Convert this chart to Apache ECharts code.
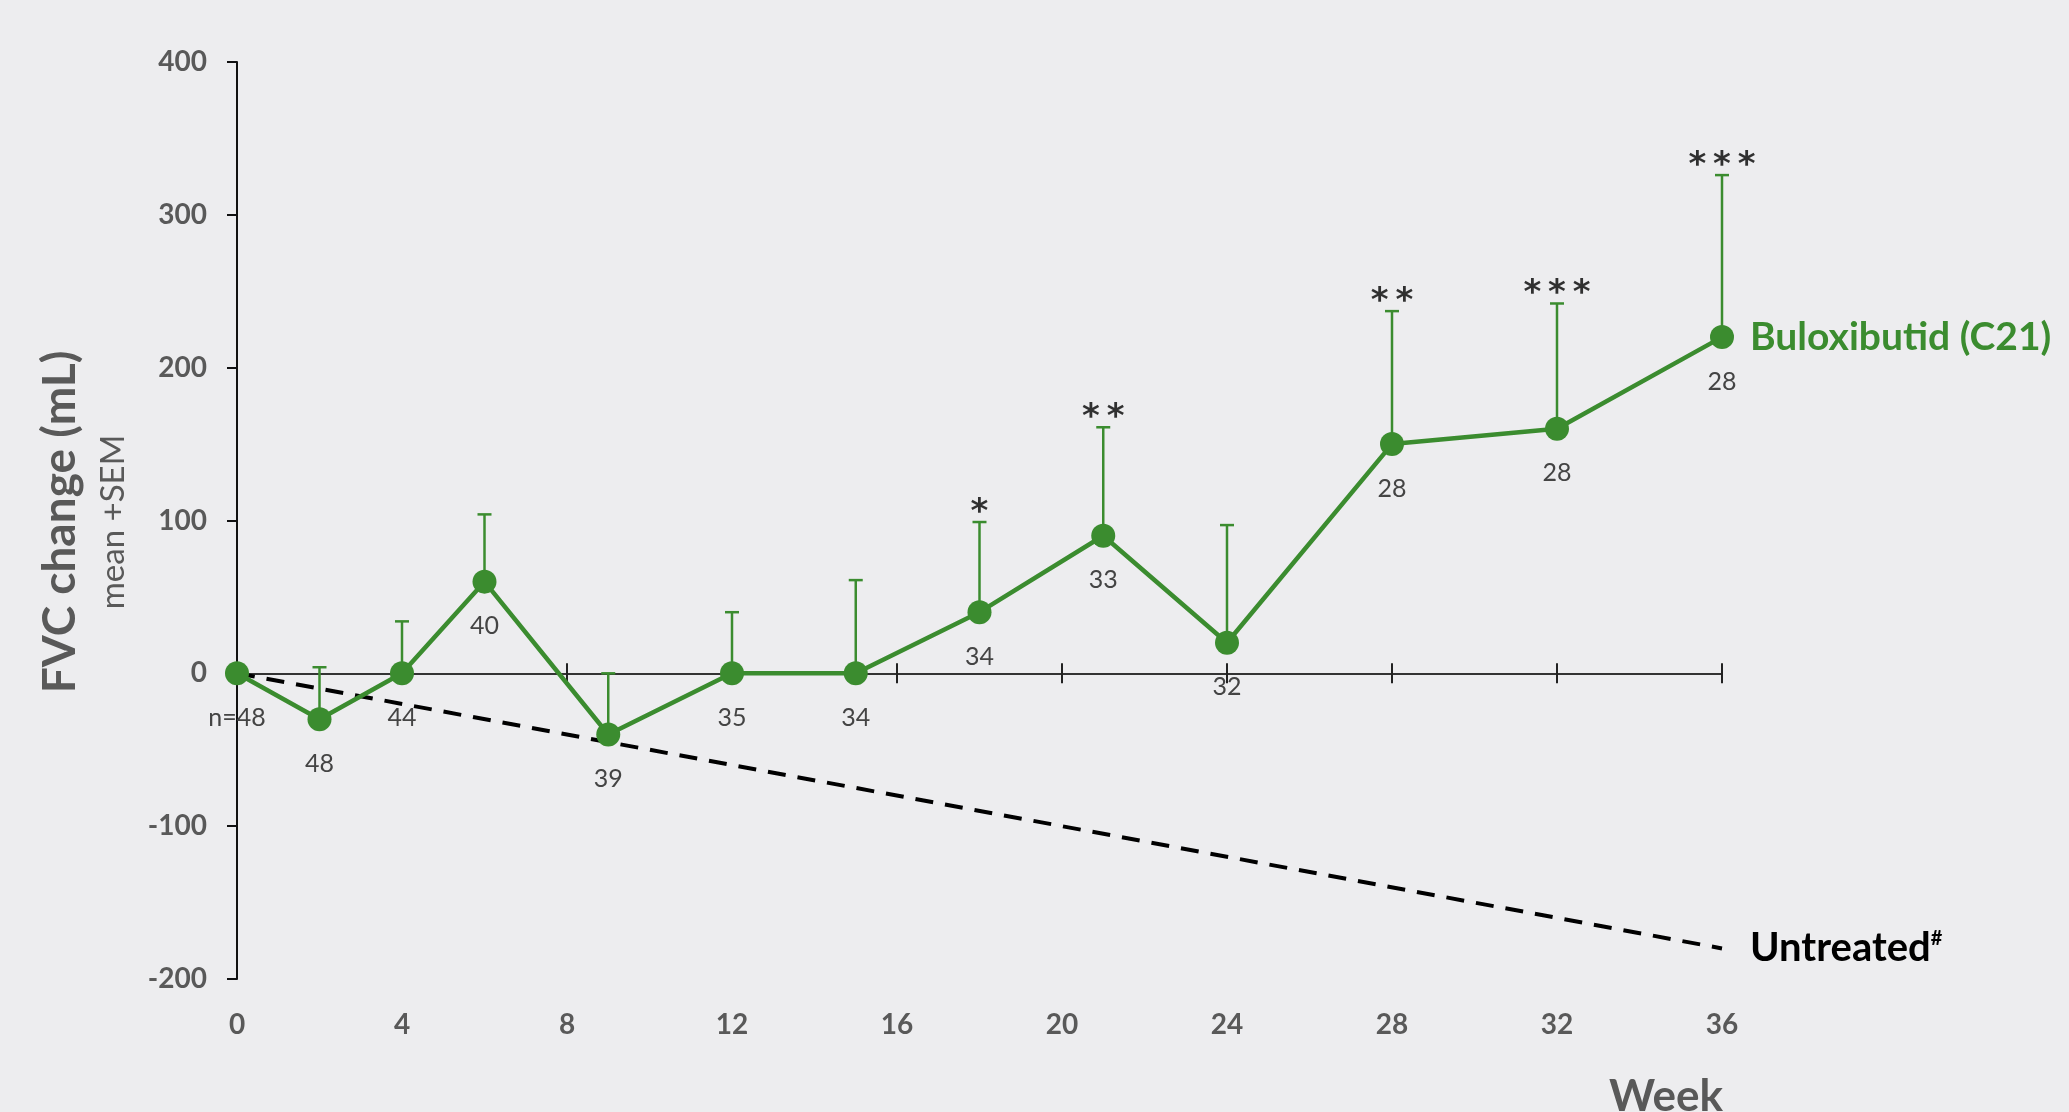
<!DOCTYPE html>
<html>
<head>
<meta charset="utf-8">
<script src="https://cdn.jsdelivr.net/npm/echarts@6/dist/echarts.min.js"></script>
<style>
html, body { margin: 0; padding: 0; background: #ededef; }
#chart { width: 2069px; height: 1112px; }
</style>
</head>
<body>
<div id="chart"></div>
<script>
var weeks = [0, 2, 4, 6, 9, 12, 15, 18, 21, 24, 28, 32, 36];
var fvcMean = [0, -30, 0, 60, -40, 0, 0, 40, 90, 20, 150, 160, 220];
var fvcSem = [0, 34, 34, 44, 40, 40, 61, 59, 71, 77, 87, 82, 106];
var nPatients = ['n=48', '48', '44', '40', '39', '35', '34', '34', '33', '32', '28', '28', '28'];
var stars = ['', '', '', '', '', '', '', '*', '**', '', '**', '***', '***'];
var untreatedWeeks = [0, 36];
var untreatedMean = [0, -180];

var green = '#3b8c2f';
var grey = '#595959';
var font = 'Lato';

var chartDom = document.getElementById('chart');
var myChart = echarts.init(chartDom);
var option;

var meanData = weeks.map(function (w, i) { return [w, fvcMean[i]]; });
var errData = weeks.map(function (w, i) { return [w, fvcMean[i], fvcSem[i]]; });
var starData = weeks.map(function (w, i) { return [w, fvcMean[i] + fvcSem[i]]; });
var untreatedData = untreatedWeeks.map(function (w, i) { return [w, untreatedMean[i]]; });

option = {
    backgroundColor: '#ededef',
    animation: false,
    textStyle: { fontFamily: font },
    grid: {
        left: 237,
        right: 347,
        top: 62,
        bottom: 133,
        containLabel: false
    },
    xAxis: [
        {
            // line on zero, ticks pointing up
            type: 'value', position: 'bottom', min: 0, max: 36, interval: 4,
            axisLine: { onZero: true, onZeroAxisIndex: 0, lineStyle: { color: '#333', width: 2 } },
            axisTick: { show: true, inside: true, length: 10, lineStyle: { color: '#222', width: 2 } },
            axisLabel: { show: false },
            splitLine: { show: false }
        },
        {
            // ticks pointing down, on zero of the helper y axis
            type: 'value', position: 'bottom', min: 0, max: 36, interval: 4,
            axisLine: { show: true, onZero: true, onZeroAxisIndex: 1, lineStyle: { color: '#333', width: 2, opacity: 0 } },
            axisTick: { show: true, inside: false, length: 10, lineStyle: { color: '#222', width: 2 } },
            axisLabel: { show: false },
            splitLine: { show: false }
        },
        {
            // labels at the bottom
            type: 'value', position: 'bottom', min: 0, max: 36, interval: 4,
            axisLine: { show: false, onZero: false },
            axisTick: { show: false },
            axisLabel: { show: true, margin: 32, fontSize: 28, fontWeight: 'bold', color: grey, fontFamily: font },
            splitLine: { show: false }
        }
    ],
    yAxis: [
        {
            type: 'value', position: 'left', min: -200, max: 400, interval: 100,
            axisLine: { show: true, onZero: false, lineStyle: { color: '#111', width: 2 } },
            axisTick: { show: true, length: 10, lineStyle: { color: '#111', width: 2 } },
            axisLabel: { margin: 30, fontSize: 28, fontWeight: 'bold', color: grey, fontFamily: font },
            splitLine: { show: false }
        },
        {
            // helper axis, same scale, nothing drawn
            type: 'value', position: 'left', min: -200, max: 400, interval: 100,
            axisLine: { show: false, onZero: false },
            axisTick: { show: false },
            axisLabel: { show: false },
            splitLine: { show: false }
        }
    ],
    graphic: [
        {
            type: 'text', x: 60, y: 522, rotation: Math.PI / 2,
            style: { text: 'FVC change (mL)', fontSize: 46, fontWeight: 'bold', fill: grey, fontFamily: font, align: 'center', verticalAlign: 'middle' }
        },
        {
            type: 'text', x: 113, y: 522, rotation: Math.PI / 2,
            style: { text: 'mean +SEM', fontSize: 33, fill: grey, fontFamily: font, align: 'center', verticalAlign: 'middle' }
        },
        {
            type: 'text', x: 1666, y: 1097,
            style: { text: 'Week', fontSize: 44, fontWeight: 'bold', fill: grey, fontFamily: font, align: 'center', verticalAlign: 'middle' }
        }
    ],
    series: [
        {
            name: 'Untreated',
            type: 'line',
            data: untreatedData,
            symbol: 'none',
            lineStyle: { color: '#000', width: 4, type: [18, 12] },
            z: 2,
            endLabel: {
                show: true,
                distance: 28,
                formatter: '{a|Untreated}{b|#}',
                rich: {
                    a: { fontSize: 40, fontWeight: 'bold', color: '#000', fontFamily: font },
                    b: { fontSize: 20, fontWeight: 'bold', color: '#000', fontFamily: font, verticalAlign: 'top', padding: [0, 0, 18, 0] }
                }
            }
        },
        {
            name: 'SEM',
            type: 'custom',
            data: errData,
            z: 3,
            renderItem: function (params, api) {
                var x = api.value(0), m = api.value(1), s = api.value(2);
                if (!s) return;
                var p0 = api.coord([x, m]);
                var p1 = api.coord([x, m + s]);
                var st = { stroke: green, lineWidth: 2.5 };
                return {
                    type: 'group',
                    children: [
                        { type: 'line', shape: { x1: p0[0], y1: p0[1], x2: p1[0], y2: p1[1] }, style: st },
                        { type: 'line', shape: { x1: p1[0] - 7, y1: p1[1], x2: p1[0] + 7, y2: p1[1] }, style: st }
                    ]
                };
            }
        },
        {
            name: 'Buloxibutid (C21)',
            type: 'line',
            data: meanData,
            symbol: 'circle',
            symbolSize: 24,
            itemStyle: { color: green },
            lineStyle: { color: green, width: 4.5 },
            z: 4,
            label: {
                show: true,
                position: 'bottom',
                distance: 20,
                fontSize: 25,
                color: '#444',
                fontFamily: font,
                formatter: function (p) { return nPatients[p.dataIndex]; }
            },
            endLabel: {
                show: true,
                distance: 28,
                fontSize: 39,
                fontWeight: 'bold',
                color: green,
                fontFamily: font,
                formatter: 'Buloxibutid (C21)'
            }
        },
        {
            name: 'stars',
            type: 'scatter',
            data: starData,
            symbolSize: 0,
            z: 5,
            label: {
                show: true,
                position: 'top',
                distance: -8,
                fontSize: 34,
                fontWeight: 'bold',
                color: '#000',
                fontFamily: 'DejaVu Sans',
                formatter: function (p) { return stars[p.dataIndex].split('').join('\u2009'); }
            }
        }
    ]
};

option && myChart.setOption(option);
</script>
</body>
</html>
